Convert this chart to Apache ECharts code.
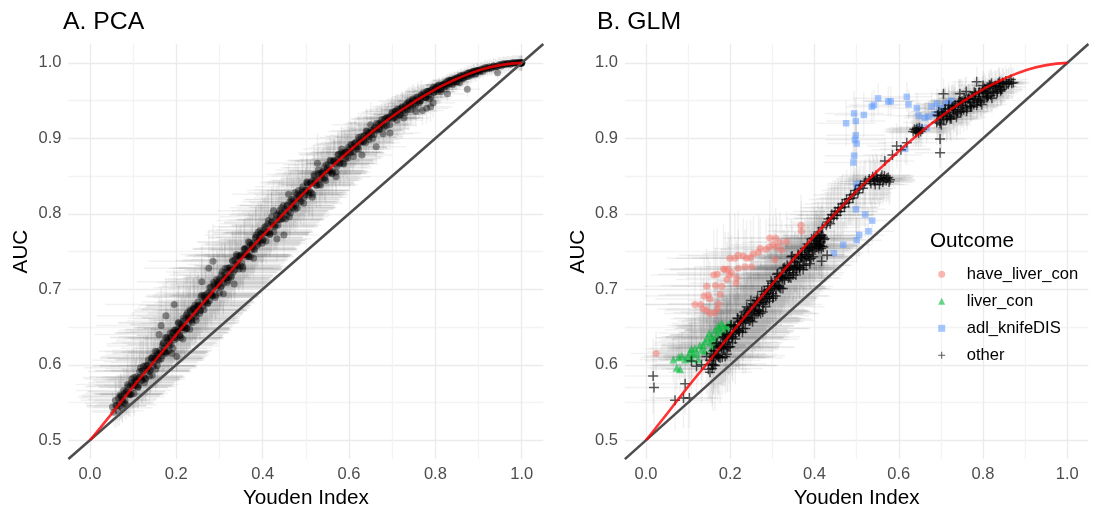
<!DOCTYPE html>
<html>
<head>
<meta charset="utf-8">
<title>AUC vs Youden Index</title>
<script src="https://cdn.jsdelivr.net/npm/echarts@6/dist/echarts.min.js"></script>
<style>
html,body{margin:0;padding:0;background:#fff;}
#chart{width:1095px;height:514px;}
</style>
</head>
<body>
<div id="chart"></div>
<script>
// ---------- data ----------
// major tick positions (labels) on each axis
const youdenTicks = [0, 0.2, 0.4, 0.6, 0.8, 1.0];
const aucTicks = [0.5, 0.6, 0.7, 0.8, 0.9, 1.0];

// reference curve: AUC expected for a given Youden index
const youdenGrid = [0,.05,.1,.15,.2,.25,.3,.35,.4,.45,.5,.55,.6,.65,.7,.75,.8,.85,.9,.95,1];
const aucCurve = [.5,.535,.571,.605,.640,.674,.707,.740,.771,.801,.830,.857,.883,.907,.929,.948,.965,.979,.990,.997,1];

// chance line AUC = (1 + J) / 2 across the plotted range
const chanceLine = [[-.05,.475],[1.05,1.025]];

// panel A: PCA results, [youden, auc, youden half-width, auc half-width]
const pcaPoints = [
[.052,.544,.06,.02],[.055,.537,.05,.02],[.059,.553,.08,.03],[.062,.546,.07,.02],[.066,.556,.09,.03],[.069,.545,.06,.02],[.072,.558,.10,.03],[.075,.554,.08,.03],[.078,.566,.11,.03],[.081,.553,.07,.02],[.084,.565,.09,.03],[.087,.574,.12,.04],[.090,.561,.08,.03],[.093,.572,.10,.03],[.096,.561,.07,.02],[.099,.573,.09,.03],[.102,.583,.12,.04],[.105,.573,.09,.03],[.108,.584,.11,.04],[.111,.570,.07,.02],[.114,.583,.10,.03],[.117,.596,.13,.04],[.120,.579,.08,.03],[.123,.592,.11,.04],[.126,.576,.07,.02],[.129,.599,.12,.04],[.132,.592,.10,.03],[.135,.606,.13,.04],[.138,.591,.09,.03],[.141,.604,.11,.04],[.144,.586,.07,.02],[.147,.611,.12,.04],
[.150,.609,.11,.04],[.152,.594,.08,.03],[.155,.617,.12,.04],[.157,.607,.10,.03],[.160,.640,.15,.05],[.162,.619,.11,.04],[.165,.652,.15,.05],[.167,.612,.09,.03],[.170,.629,.12,.04],[.172,.622,.10,.03],[.175,.636,.13,.04],[.176,.665,.16,.05],[.178,.617,.09,.03],[.181,.634,.12,.04],[.183,.626,.10,.03],[.186,.642,.13,.04],[.188,.635,.11,.04],[.190,.615,.08,.03],[.192,.643,.13,.04],[.195,.680,.16,.05],[.196,.633,.10,.03],[.199,.646,.12,.04],[.201,.611,.07,.02],[.203,.644,.11,.04],[.205,.656,.14,.05],[.208,.639,.10,.03],[.210,.654,.12,.04],[.212,.649,.11,.04],[.215,.634,.09,.03],[.217,.662,.13,.05],[.219,.649,.11,.04],[.222,.661,.12,.04],[.224,.648,.10,.03],[.226,.669,.13,.05],[.229,.662,.11,.04],[.231,.647,.09,.03],[.233,.671,.13,.04],[.236,.660,.10,.03],[.238,.673,.12,.04],[.241,.667,.11,.04],[.243,.679,.13,.05],[.246,.664,.10,.03],[.248,.678,.12,.04],
[.251,.678,.12,.04],[.254,.668,.10,.03],[.257,.690,.13,.04],[.259,.710,.15,.05],[.262,.678,.10,.03],[.265,.692,.12,.04],[.268,.685,.11,.04],[.271,.694,.12,.04],[.275,.728,.15,.05],[.277,.685,.10,.03],[.280,.703,.12,.04],[.283,.693,.10,.03],[.285,.737,.15,.05],[.287,.704,.12,.04],[.290,.689,.09,.03],[.293,.713,.12,.04],[.296,.705,.11,.04],[.300,.714,.12,.04],[.303,.703,.10,.03],[.306,.723,.13,.04],[.309,.694,.08,.03],[.312,.719,.11,.04],[.315,.715,.10,.03],[.318,.728,.12,.04],[.321,.716,.10,.03],[.324,.729,.12,.04],[.327,.716,.10,.03],[.330,.738,.13,.04],[.334,.707,.08,.03],[.336,.733,.11,.04],[.339,.746,.13,.04],[.342,.731,.10,.03],[.345,.744,.12,.04],[.348,.731,.10,.03],[.351,.746,.11,.04],[.354,.727,.09,.03],[.357,.753,.12,.04],[.360,.746,.10,.03],[.364,.755,.11,.04],[.367,.744,.10,.03],[.370,.762,.12,.04],[.374,.752,.10,.03],[.377,.761,.11,.04],[.379,.741,.08,.03],[.383,.768,.11,.04],[.387,.758,.10,.03],[.390,.776,.12,.04],[.394,.765,.10,.03],[.397,.775,.11,.04],
[.401,.766,.10,.03],[.405,.783,.12,.04],[.409,.775,.10,.03],[.413,.791,.12,.04],[.417,.773,.09,.03],[.421,.789,.11,.04],[.425,.804,.13,.04],[.429,.785,.10,.03],[.433,.767,.08,.03],[.436,.800,.11,.04],[.440,.792,.10,.03],[.444,.808,.12,.04],[.449,.772,.08,.03],[.452,.806,.11,.03],[.456,.798,.10,.03],[.460,.826,.13,.04],[.463,.816,.11,.04],[.467,.809,.10,.03],[.471,.819,.11,.04],[.475,.806,.09,.03],[.479,.821,.10,.03],[.483,.831,.12,.04],[.487,.817,.09,.03],[.491,.832,.11,.04],[.495,.814,.09,.03],[.499,.831,.10,.03],[.503,.841,.11,.04],[.507,.828,.09,.03],[.511,.840,.10,.03],[.515,.822,.08,.03],[.519,.852,.11,.04],[.523,.844,.10,.03],[.527,.867,.12,.04],[.531,.839,.09,.03],[.534,.854,.10,.03],[.538,.847,.09,.03],[.542,.861,.10,.03],[.546,.844,.08,.03],[.550,.861,.10,.03],[.554,.857,.09,.03],[.558,.870,.10,.03],[.562,.856,.08,.03],[.566,.870,.10,.03],[.570,.849,.08,.02],[.574,.872,.09,.03],[.578,.867,.08,.03],[.582,.881,.10,.03],[.586,.867,.08,.02],[.590,.880,.09,.03],[.594,.876,.08,.03],[.598,.888,.09,.03],
[.602,.881,.08,.03],[.606,.891,.09,.03],[.610,.876,.07,.02],[.614,.893,.09,.03],[.618,.886,.08,.02],[.622,.901,.09,.03],[.626,.894,.08,.02],[.630,.878,.07,.02],[.634,.903,.09,.03],[.638,.894,.08,.02],[.642,.909,.09,.03],[.646,.902,.08,.02],[.650,.918,.09,.03],[.655,.900,.07,.02],[.659,.913,.08,.02],[.663,.889,.07,.02],[.667,.919,.08,.02],[.671,.912,.07,.02],[.675,.921,.08,.02],[.679,.906,.07,.02],[.683,.926,.08,.02],[.687,.917,.07,.02],[.691,.927,.08,.02],[.695,.907,.07,.02],[.699,.933,.08,.02],[.703,.927,.07,.02],[.707,.936,.07,.02],[.711,.924,.06,.02],[.715,.938,.07,.02],[.719,.931,.06,.02],[.723,.942,.07,.02],[.727,.927,.06,.02],[.731,.943,.07,.02],[.735,.938,.06,.02],[.739,.949,.07,.02],[.743,.938,.06,.02],[.747,.950,.06,.02],[.751,.946,.06,.02],[.755,.936,.05,.02],[.759,.955,.06,.02],[.763,.947,.05,.02],[.767,.957,.06,.02],[.770,.937,.05,.02],[.774,.958,.05,.01],[.778,.954,.05,.01],[.780,.940,.05,.02],[.782,.962,.05,.01],[.786,.952,.05,.01],[.789,.942,.05,.02],[.793,.965,.05,.01],[.795,.947,.05,.02],[.797,.961,.05,.01],
[.801,.967,.05,.01],[.805,.962,.04,.01],[.809,.970,.05,.01],[.813,.962,.04,.01],[.817,.971,.04,.01],[.821,.968,.04,.01],[.825,.974,.04,.01],[.828,.959,.04,.01],[.832,.972,.04,.01],[.836,.977,.04,.01],[.840,.971,.04,.01],[.844,.978,.03,.01],[.848,.975,.03,.01],[.852,.980,.03,.01],[.856,.974,.03,.01],[.860,.982,.03,.01],[.864,.980,.03,.01],[.868,.984,.03,.01],[.874,.965,.03,.01],[.876,.982,.03,.01],[.880,.987,.03,.01],[.885,.985,.03,.01],[.889,.989,.03,.01],[.893,.985,.03,.01],[.897,.990,.02,.01],[.902,.988,.02,.01],[.906,.992,.02,.01],[.910,.989,.02,.01],[.915,.994,.02,.01],[.920,.992,.02,.01],[.925,.995,.02,.01],[.930,.993,.02,.01],[.935,.996,.02,.01],[.940,.995,.02,.01],[.944,.987,.02,.01],[.948,.998,.02,.01],[.953,.996,.02,.01],[.958,.999,.01,.01],[.963,.998,.01,.01],[.968,.999,.01,.01],[.973,.998,.01,.01],[.978,1,.01,.01],[.983,.999,.01,.01],[.988,1,.01,.01],[.992,1,.01,.01],[.994,.999,.01,.01],[.996,1,.01,.01],[.999,.999,.01,.01],[1,1,.01,.01],
[.060,.546,.07,.03],[.064,.539,.06,.02],[.068,.549,.08,.03],[.072,.558,.09,.03],[.076,.551,.07,.02],[.080,.549,.06,.02],[.084,.564,.09,.03],[.088,.562,.08,.03],[.092,.560,.07,.02],[.096,.576,.10,.03],[.100,.570,.08,.03],[.104,.577,.09,.03],[.108,.580,.10,.03],[.112,.573,.08,.03],[.116,.583,.09,.03],[.120,.592,.11,.04],[.124,.584,.09,.03],[.128,.582,.08,.03],[.132,.598,.11,.04],[.136,.595,.10,.03],[.140,.593,.09,.03],[.144,.609,.12,.04],[.148,.603,.10,.03],[.152,.609,.11,.04],
[.156,.613,.12,.04],[.160,.606,.10,.03],[.164,.616,.11,.04],[.168,.625,.13,.04],[.172,.617,.10,.03],[.176,.615,.09,.03],[.180,.631,.12,.04],[.184,.629,.11,.04],[.188,.627,.10,.03],[.192,.642,.13,.04],[.196,.636,.11,.04],[.200,.643,.12,.04],[.204,.647,.12,.04],[.208,.639,.10,.03],[.212,.649,.11,.04],[.216,.658,.13,.04],[.220,.651,.11,.04],[.224,.648,.10,.03],[.228,.664,.12,.04],[.232,.662,.11,.04],[.236,.659,.10,.03],[.240,.675,.13,.04],[.244,.669,.11,.04],[.248,.676,.12,.04],
[.252,.679,.12,.04],[.256,.672,.10,.03],[.260,.682,.11,.04],[.264,.690,.13,.04],[.268,.683,.11,.04],[.272,.681,.10,.03],[.276,.696,.12,.04],[.280,.694,.11,.04],[.284,.691,.10,.03],[.288,.707,.12,.04],[.292,.701,.11,.04],[.296,.707,.11,.04],[.300,.711,.12,.04],[.304,.704,.10,.03],[.308,.713,.11,.04],[.312,.722,.12,.04],[.316,.715,.10,.03],[.320,.712,.10,.03],[.324,.728,.12,.04],[.328,.726,.11,.04],[.332,.723,.10,.03],[.336,.739,.12,.04],[.340,.732,.10,.03],[.344,.739,.11,.04],
[.348,.743,.11,.04],[.352,.735,.10,.03],[.356,.745,.11,.04],[.360,.753,.12,.04],[.364,.746,.10,.03],[.368,.743,.09,.03],[.372,.759,.11,.04],[.376,.756,.10,.03],[.380,.754,.10,.03],[.384,.769,.11,.04],[.388,.763,.10,.03],[.392,.769,.10,.03],[.396,.773,.11,.04],[.400,.765,.10,.03],[.404,.774,.10,.03],[.408,.783,.11,.04],[.412,.775,.10,.03],[.416,.773,.09,.03],[.420,.788,.11,.04],[.424,.785,.10,.03],[.428,.783,.10,.03],[.432,.798,.11,.04],[.436,.792,.10,.03],[.440,.798,.10,.03],
[.444,.801,.10,.03],[.448,.794,.09,.03],[.452,.803,.10,.03],[.456,.811,.11,.04],[.460,.804,.09,.03],[.464,.801,.09,.03],[.468,.816,.10,.03],[.472,.814,.10,.03],[.476,.811,.09,.03],[.480,.826,.10,.04],[.484,.820,.09,.03],[.488,.826,.09,.03],[.492,.829,.10,.03],[.496,.822,.09,.03],[.500,.831,.09,.03],[.504,.839,.10,.03],[.508,.831,.09,.03],[.512,.828,.08,.03],[.516,.844,.10,.03],[.520,.841,.09,.03],[.524,.838,.08,.03],[.528,.853,.10,.03],[.532,.846,.09,.03],[.536,.852,.09,.03],
[.540,.856,.09,.03],[.544,.848,.08,.03],[.548,.857,.09,.03],[.552,.865,.09,.03],[.556,.857,.08,.03],[.560,.854,.08,.02],[.564,.869,.09,.03],[.568,.866,.08,.03],[.572,.863,.08,.02],[.576,.879,.09,.03],[.580,.872,.08,.03],[.584,.878,.08,.03],[.588,.881,.08,.03],[.592,.873,.08,.02],[.596,.882,.08,.03],[.600,.885,.08,.03],[.604,.882,.07,.02],[.608,.888,.08,.03],[.612,.893,.08,.03],[.616,.889,.07,.02],[.620,.889,.07,.02],[.624,.898,.08,.03],[.628,.896,.07,.02],[.632,.895,.07,.02],
[.636,.904,.08,.02],[.640,.901,.07,.02],[.644,.906,.07,.02],[.648,.908,.07,.02],[.652,.905,.07,.02],[.656,.911,.07,.02],[.660,.915,.07,.02],[.664,.911,.06,.02],[.668,.911,.06,.02],[.672,.920,.07,.02],[.676,.918,.06,.02],[.680,.917,.06,.02],[.684,.926,.07,.02],[.688,.923,.06,.02],[.692,.927,.06,.02],[.696,.929,.06,.02],[.700,.926,.06,.02],[.704,.932,.06,.02],[.708,.936,.06,.02],[.712,.932,.06,.02],[.716,.931,.05,.02],[.720,.940,.06,.02],[.724,.938,.05,.02],[.728,.937,.05,.02],
[.732,.945,.06,.02],[.736,.942,.05,.02],[.740,.946,.05,.02],[.744,.948,.05,.02],[.748,.944,.05,.02],[.752,.950,.05,.02],[.756,.954,.05,.01],[.760,.949,.05,.01],[.764,.949,.05,.01],[.768,.957,.05,.01],[.772,.955,.05,.01],[.776,.954,.04,.01],[.780,.962,.05,.01],[.784,.958,.04,.01],[.788,.963,.04,.01],[.792,.964,.04,.01],[.796,.961,.04,.01],[.800,.966,.04,.01],[.804,.969,.04,.01],[.808,.965,.04,.01],[.812,.965,.04,.01],[.816,.971,.04,.01],[.820,.971,.04,.01],[.824,.970,.04,.01],
[.828,.976,.04,.01],[.832,.973,.03,.01],[.836,.977,.03,.01],[.840,.977,.03,.01],[.844,.975,.03,.01],[.848,.979,.03,.01],[.852,.981,.03,.01],[.856,.979,.03,.01],[.860,.979,.03,.01],[.864,.984,.03,.01],[.868,.983,.03,.01],[.872,.982,.03,.01],[.876,.987,.03,.01],[.880,.985,.03,.01],[.884,.988,.02,.01],[.888,.988,.02,.01],[.892,.986,.02,.01],[.896,.990,.02,.01],[.900,.990,.02,.01],[.905,.990,.02,.01],[.910,.992,.02,.01],[.915,.992,.02,.01],[.920,.994,.02,.01],[.925,.993,.02,.01],
[.930,.994,.02,.01],[.935,.996,.02,.01],[.940,.995,.02,.01],[.945,.996,.02,.01],[.950,.997,.01,.01],[.955,.998,.01,.01],[.960,.998,.01,.01],[.965,.999,.01,.01],[.970,.999,.01,.01],[.975,.999,.01,.01],[.980,1,.01,.01],[.985,1,.01,.01],[.990,1,.01,.01],[.995,1,.01,.01],[.997,.999,.01,.01],[.998,1,.01,.01],[1,1,.01,.01],[1,1,.01,.01],
[.070,.560,.09,.03],[.075,.543,.07,.02],[.079,.562,.09,.03],[.084,.547,.07,.02],[.088,.571,.10,.03],[.093,.561,.08,.03],[.097,.581,.11,.04],[.102,.562,.08,.03],[.106,.578,.10,.03],[.111,.571,.09,.03],[.115,.591,.12,.04],[.120,.580,.09,.03],[.124,.598,.12,.04],[.129,.581,.09,.03],[.133,.599,.11,.04],[.138,.585,.08,.03],[.142,.609,.12,.04],[.147,.598,.10,.03],[.151,.618,.13,.04],[.156,.599,.09,.03],[.160,.615,.11,.04],[.165,.608,.10,.03],[.169,.628,.13,.04],[.174,.617,.10,.03],
[.178,.636,.13,.04],[.183,.619,.10,.03],[.187,.637,.12,.04],[.192,.622,.09,.03],[.196,.646,.13,.04],[.201,.635,.11,.04],[.205,.655,.14,.05],[.210,.636,.10,.03],[.214,.653,.12,.04],[.219,.646,.11,.04],[.223,.666,.13,.05],[.228,.655,.11,.04],[.232,.673,.13,.05],[.237,.656,.10,.03],[.241,.674,.12,.04],[.246,.659,.10,.03],[.250,.683,.13,.04],[.255,.672,.11,.04],[.259,.692,.13,.05],[.264,.673,.10,.03],[.268,.689,.12,.04],[.273,.682,.11,.04],[.277,.702,.13,.04],[.282,.691,.11,.04],
[.286,.709,.13,.04],[.291,.692,.10,.03],[.295,.710,.12,.04],[.300,.695,.10,.03],[.304,.719,.12,.04],[.309,.708,.11,.04],[.313,.728,.13,.04],[.318,.709,.10,.03],[.322,.725,.12,.04],[.327,.718,.11,.04],[.331,.737,.12,.04],[.336,.726,.11,.04],[.340,.744,.12,.04],[.345,.727,.10,.03],[.349,.745,.12,.04],[.354,.730,.10,.03],[.358,.754,.12,.04],[.363,.743,.10,.03],[.367,.763,.12,.04],[.372,.743,.10,.03],[.376,.759,.11,.04],[.381,.752,.10,.03],[.385,.772,.12,.04],[.390,.760,.10,.03],
[.394,.778,.12,.04],[.399,.761,.10,.03],[.403,.779,.11,.04],[.408,.764,.09,.03],[.412,.787,.11,.04],[.417,.776,.10,.03],[.421,.796,.12,.04],[.426,.776,.09,.03],[.430,.792,.11,.04],[.435,.785,.10,.03],[.439,.804,.11,.04],[.444,.793,.10,.03],[.448,.811,.11,.04],[.453,.793,.09,.03],[.457,.811,.11,.04],[.462,.796,.09,.03],[.466,.819,.11,.04],[.471,.808,.10,.03],[.475,.828,.11,.04],[.480,.808,.09,.03],[.484,.824,.10,.03],[.489,.816,.09,.03],[.493,.836,.11,.04],[.498,.825,.09,.03],
[.502,.842,.10,.03],[.507,.825,.09,.03],[.511,.842,.10,.03],[.516,.826,.08,.03],[.520,.850,.10,.03],[.525,.838,.09,.03],[.529,.858,.10,.03],[.534,.838,.08,.03],[.538,.854,.09,.03],[.543,.846,.09,.03],[.547,.865,.10,.03],[.552,.854,.09,.03],[.556,.871,.10,.03],[.561,.853,.08,.03],[.565,.871,.09,.03],[.570,.855,.08,.03],[.574,.878,.09,.03],[.579,.867,.08,.03],[.583,.886,.09,.03],[.588,.866,.08,.03],[.592,.882,.08,.03],[.597,.874,.08,.03],
[.604,.892,.08,.03],[.610,.882,.07,.02],[.616,.895,.08,.03],[.622,.886,.07,.02],[.628,.902,.08,.03],[.634,.896,.07,.02],[.640,.910,.08,.03],[.646,.898,.07,.02],[.652,.910,.07,.02],[.658,.905,.07,.02],[.664,.920,.07,.02],[.670,.913,.07,.02],[.676,.925,.07,.02],[.682,.915,.06,.02],[.688,.928,.07,.02],[.694,.918,.06,.02],[.700,.935,.07,.02],[.706,.928,.06,.02],[.712,.939,.06,.02],[.718,.932,.06,.02],[.724,.941,.06,.02],[.730,.934,.06,.02],[.736,.947,.06,.02],[.742,.943,.05,.02],
[.748,.952,.06,.02],[.754,.944,.05,.02],[.760,.952,.05,.02],[.766,.950,.05,.01],[.772,.960,.05,.01],[.778,.954,.05,.01],[.784,.962,.05,.01],[.790,.955,.05,.01],[.796,.968,.04,.01],[.802,.964,.04,.01],[.808,.971,.04,.01],[.814,.965,.04,.01],[.820,.972,.04,.01],[.826,.969,.04,.01],[.832,.977,.04,.01],[.838,.973,.03,.01],[.844,.979,.03,.01],[.850,.975,.03,.01],[.858,.983,.03,.01],[.866,.980,.03,.01],[.874,.986,.03,.01],[.882,.984,.03,.01],[.890,.989,.02,.01],[.898,.989,.02,.01]
];

// panel B: GLM results by outcome, [youden, auc, youden half-width, auc half-width]
const haveLiverCon = [
[.024,.615,.06,.03],[.116,.680,.12,.05],[.130,.680,.13,.05],[.136,.674,.11,.04],[.138,.691,.14,.05],[.144,.672,.10,.04],[.144,.704,.15,.05],[.148,.692,.12,.05],[.152,.687,.13,.05],[.152,.668,.11,.04],[.161,.719,.15,.06],[.164,.669,.10,.04],[.165,.705,.13,.05],[.169,.674,.12,.04],[.169,.720,.14,.06],[.172,.681,.12,.05],[.176,.693,.13,.05],[.180,.704,.12,.05],[.184,.727,.14,.06],[.188,.726,.13,.05],[.192,.713,.12,.05],[.195,.727,.14,.05],[.198,.719,.12,.05],[.199,.741,.15,.06],[.203,.722,.13,.05],[.211,.741,.14,.06],[.214,.708,.11,.04],[.215,.715,.12,.05],[.219,.728,.13,.05],[.219,.745,.14,.06],[.231,.744,.13,.05],[.235,.730,.12,.05],[.239,.741,.13,.05],[.248,.742,.12,.05],[.251,.730,.11,.04],[.255,.747,.12,.05],[.267,.749,.12,.05],[.271,.754,.11,.04],[.285,.753,.11,.04],[.293,.756,.10,.04],[.294,.768,.11,.05],[.302,.759,.10,.04],[.306,.739,.09,.04],[.308,.768,.10,.04],[.310,.756,.10,.04],[.318,.762,.09,.04],[.322,.752,.09,.04],[.334,.763,.09,.04],[.368,.785,.08,.04],[.369,.777,.08,.04]
];
const liverCon = [
[.065,.607,.08,.03],[.073,.596,.07,.03],[.078,.610,.09,.03],[.081,.594,.07,.03],[.085,.612,.09,.03],[.093,.607,.08,.03],[.100,.610,.10,.03],[.104,.617,.10,.04],[.108,.621,.11,.04],[.108,.608,.08,.03],[.112,.614,.09,.03],[.116,.622,.11,.04],[.120,.616,.09,.03],[.124,.607,.08,.03],[.128,.626,.11,.04],[.132,.620,.10,.04],[.136,.626,.10,.04],[.140,.631,.11,.04],[.140,.618,.09,.03],[.146,.635,.12,.04],[.150,.642,.12,.04],[.152,.629,.10,.04],[.156,.637,.11,.04],[.156,.622,.09,.03],[.160,.633,.10,.04],[.164,.646,.12,.04],[.167,.639,.11,.04],[.167,.627,.09,.03],[.172,.652,.11,.04],[.174,.648,.11,.04],[.178,.643,.10,.04],[.180,.655,.12,.04],[.184,.650,.11,.04],[.192,.652,.10,.04],[.192,.646,.10,.04],[.199,.655,.10,.04]
];
const adlKnifeDIS = [
[.446,.748,.07,.03],[.468,.759,.07,.03],[.500,.765,.06,.03],[.506,.772,.06,.03],[.528,.777,.06,.03],[.537,.791,.06,.03],[.520,.799,.06,.03],[.498,.806,.07,.03],[.500,.835,.07,.03],[.500,.840,.07,.03],[.492,.868,.07,.03],[.494,.877,.07,.03],[.500,.893,.07,.03],[.496,.898,.07,.03],[.498,.904,.07,.03],[.475,.920,.07,.03],[.498,.923,.07,.03],[.494,.933,.07,.03],[.517,.931,.07,.03],[.536,.942,.06,.02],[.541,.944,.06,.02],[.551,.953,.06,.02],[.575,.949,.06,.02],[.581,.949,.06,.02],[.615,.886,.06,.02],[.619,.955,.06,.02],[.623,.945,.06,.02],[.643,.940,.06,.02],[.647,.930,.06,.02],[.650,.915,.05,.02],[.662,.927,.05,.02],[.666,.914,.05,.02],[.670,.929,.05,.02],[.678,.942,.05,.02],[.685,.932,.05,.02],[.690,.946,.05,.02],[.698,.940,.05,.02],[.705,.936,.05,.02],[.710,.946,.05,.02],[.718,.947,.05,.02],[.725,.950,.05,.02]
];
const otherOutcomes = [
[.017,.585,.10,.05],[.019,.570,.09,.05],[.069,.553,.08,.04],[.089,.556,.08,.04],[.103,.556,.08,.04],[.093,.575,.09,.04],[.108,.605,.11,.05],[.120,.598,.10,.04],[.132,.600,.11,.05],[.148,.594,.10,.04],[.152,.590,.10,.04],[.144,.611,.12,.05],[.160,.600,.10,.04],[.188,.611,.12,.05],[.192,.614,.12,.05],
[.155,.615,.13,.05],[.158,.599,.15,.06],[.161,.613,.12,.05],[.164,.599,.15,.06],[.167,.628,.13,.05],[.170,.612,.16,.06],[.173,.625,.12,.05],[.176,.609,.15,.06],[.179,.622,.13,.05],[.182,.636,.16,.06],[.185,.620,.13,.05],[.188,.633,.15,.06],[.191,.640,.12,.05],[.194,.623,.16,.06],[.197,.637,.13,.05],[.200,.624,.15,.06],[.203,.653,.12,.05],[.206,.637,.16,.06],[.209,.650,.13,.05],[.212,.634,.15,.06],[.215,.647,.12,.05],[.218,.661,.16,.06],[.221,.645,.13,.05],[.224,.658,.15,.06],[.227,.665,.12,.05],[.230,.648,.16,.06],[.233,.662,.13,.05],[.236,.648,.15,.06],[.239,.677,.12,.05],[.242,.661,.15,.06],[.245,.675,.13,.05],[.248,.659,.15,.06],
[.251,.667,.12,.05],[.254,.681,.15,.06],[.257,.665,.13,.05],[.260,.678,.14,.06],[.263,.685,.12,.05],[.266,.668,.14,.06],[.269,.682,.12,.05],[.272,.668,.14,.05],[.275,.697,.12,.05],[.278,.680,.14,.05],[.281,.693,.12,.05],[.284,.677,.14,.05],[.287,.690,.12,.05],[.290,.704,.13,.05],[.293,.688,.11,.04],[.296,.701,.13,.05],[.299,.708,.11,.04],[.302,.691,.13,.05],[.305,.705,.11,.04],[.308,.691,.13,.05],[.311,.720,.11,.04],[.314,.704,.13,.05],[.317,.717,.11,.04],[.320,.701,.12,.05],[.323,.714,.11,.04],[.326,.728,.12,.05],[.329,.712,.10,.04],[.332,.725,.12,.05],[.335,.732,.10,.04],[.338,.715,.12,.05],[.341,.729,.10,.04],[.344,.715,.12,.05],[.347,.744,.10,.04],
[.350,.722,.12,.05],[.353,.735,.10,.04],[.356,.719,.11,.04],[.359,.732,.10,.04],[.362,.745,.11,.04],[.365,.729,.10,.04],[.368,.742,.11,.04],[.371,.749,.10,.04],[.374,.732,.11,.04],[.377,.746,.09,.04],[.380,.732,.11,.04],[.383,.760,.09,.04],[.386,.744,.10,.04],[.389,.757,.09,.04],[.392,.741,.10,.04],[.395,.754,.09,.04],[.398,.768,.10,.04],[.401,.752,.09,.04],[.404,.764,.10,.04],[.407,.771,.09,.04],[.410,.754,.10,.04],[.413,.768,.09,.04],[.416,.754,.10,.04],[.419,.782,.09,.04],[.422,.766,.10,.04],
[.405,.760,.09,.04],[.410,.758,.09,.04],[.415,.763,.09,.04],[.412,.768,.09,.04],[.400,.761,.09,.04],[.418,.757,.09,.04],[.417,.737,.08,.03],[.389,.734,.08,.03],[.430,.745,.08,.03],
[.152,.606,.12,.05],[.156,.601,.13,.05],[.160,.610,.12,.05],[.164,.618,.14,.05],[.168,.613,.12,.05],[.172,.611,.13,.05],[.176,.624,.14,.05],[.180,.623,.12,.05],[.184,.622,.13,.05],[.188,.635,.14,.05],[.192,.630,.12,.05],[.196,.636,.13,.05],[.200,.640,.14,.05],[.204,.635,.12,.05],[.208,.643,.13,.05],[.212,.651,.14,.05],[.216,.646,.12,.05],[.220,.645,.13,.05],[.224,.657,.14,.05],[.228,.656,.12,.05],[.232,.655,.13,.05],[.236,.667,.14,.05],[.240,.663,.12,.05],[.244,.669,.13,.05],
[.248,.673,.13,.05],[.252,.662,.12,.05],[.256,.671,.13,.05],[.260,.679,.13,.05],[.264,.673,.12,.05],[.268,.672,.12,.05],[.272,.685,.13,.05],[.276,.683,.12,.05],[.280,.682,.12,.05],[.284,.694,.13,.05],[.288,.690,.11,.04],[.292,.696,.12,.05],[.296,.699,.12,.05],[.300,.694,.11,.04],[.304,.703,.12,.05],[.308,.710,.12,.05],[.312,.705,.11,.04],[.316,.704,.11,.04],[.320,.716,.12,.05],[.324,.715,.11,.04],[.328,.714,.11,.04],[.332,.726,.11,.04],[.336,.722,.10,.04],[.340,.727,.11,.04],
[.344,.731,.11,.04],[.348,.726,.10,.04],[.352,.728,.10,.04],[.356,.736,.11,.04],[.360,.730,.10,.04],[.364,.729,.10,.04],[.368,.741,.10,.04],[.372,.740,.10,.04],[.376,.738,.09,.04],[.380,.751,.10,.04],[.384,.746,.09,.04],[.388,.752,.10,.04],[.392,.755,.10,.04],[.396,.750,.09,.04],[.400,.758,.10,.04],[.404,.765,.09,.04],[.408,.760,.09,.04],[.412,.758,.09,.04],[.416,.771,.09,.04],[.420,.769,.09,.04],[.424,.767,.09,.04],
[.157,.595,.12,.05],[.161,.619,.14,.05],[.165,.609,.12,.05],[.169,.629,.15,.06],[.173,.610,.12,.05],[.177,.626,.14,.05],[.181,.610,.12,.05],[.185,.637,.15,.06],[.189,.627,.13,.05],[.193,.639,.14,.05],[.197,.624,.12,.05],[.201,.652,.15,.06],[.205,.629,.12,.05],[.209,.652,.14,.05],[.213,.642,.13,.05],[.217,.662,.15,.06],[.221,.643,.12,.05],[.225,.659,.14,.05],[.229,.643,.12,.05],[.233,.670,.15,.06],[.237,.660,.13,.05],[.241,.672,.14,.05],[.245,.658,.12,.05],[.249,.685,.15,.06],
[.253,.657,.12,.05],[.257,.680,.14,.05],[.261,.670,.13,.05],[.265,.689,.14,.05],[.269,.671,.12,.05],[.273,.687,.13,.05],[.277,.670,.12,.05],[.281,.697,.14,.05],[.285,.687,.12,.05],[.289,.699,.13,.05],[.293,.684,.11,.04],[.297,.711,.13,.05],[.301,.688,.11,.04],[.305,.711,.13,.05],[.309,.701,.12,.05],[.313,.721,.13,.05],[.317,.702,.11,.04],[.321,.718,.12,.05],[.325,.701,.11,.04],[.329,.729,.12,.05],[.333,.719,.11,.04],[.337,.730,.12,.05],[.341,.716,.10,.04],[.345,.743,.12,.05],
[.349,.719,.10,.04],[.353,.737,.11,.04],[.357,.727,.10,.04],[.361,.746,.11,.04],[.365,.727,.10,.04],[.369,.743,.11,.04],[.373,.726,.09,.04],[.377,.754,.11,.04],[.381,.743,.10,.04],[.385,.755,.10,.04],[.389,.740,.09,.04],[.393,.767,.10,.04],[.397,.743,.09,.04],[.401,.767,.10,.04],[.405,.756,.09,.04],[.409,.776,.10,.04],[.413,.757,.09,.04],[.417,.772,.09,.04],[.421,.756,.09,.04],
[.428,.785,.10,.04],[.433,.793,.10,.04],[.437,.787,.09,.04],[.441,.799,.10,.04],[.445,.794,.09,.04],[.449,.803,.10,.04],[.453,.798,.09,.04],[.457,.808,.09,.04],[.461,.803,.09,.04],[.466,.813,.09,.04],[.471,.809,.08,.03],[.476,.819,.09,.04],[.481,.815,.08,.03],[.486,.825,.09,.04],[.491,.821,.08,.03],[.497,.831,.08,.03],[.503,.828,.08,.03],[.509,.838,.08,.03],[.515,.834,.08,.03],[.521,.843,.08,.03],
[.431,.789,.09,.04],[.439,.794,.09,.04],[.447,.798,.09,.04],[.455,.803,.09,.04],[.463,.808,.09,.04],[.472,.814,.08,.03],[.483,.820,.08,.03],[.494,.826,.08,.03],[.506,.833,.08,.03],[.518,.840,.08,.03],
[.530,.846,.08,.03],[.534,.840,.07,.03],[.538,.849,.08,.03],[.542,.843,.07,.03],[.546,.851,.08,.03],[.550,.845,.07,.03],[.554,.839,.07,.03],[.558,.848,.07,.03],[.562,.842,.07,.03],[.566,.850,.07,.03],[.570,.844,.07,.03],[.575,.848,.06,.03],[.579,.845,.06,.03],
[.532,.843,.07,.03],[.540,.846,.07,.03],[.548,.847,.07,.03],[.556,.844,.07,.03],[.564,.846,.07,.03],[.572,.847,.06,.03],[.577,.842,.06,.03],[.544,.839,.07,.03],[.560,.851,.07,.03],
[.567,.870,.07,.03],[.585,.878,.07,.03],[.595,.890,.07,.03],[.605,.885,.07,.03],[.619,.894,.07,.03],
[.634,.909,.07,.02],[.637,.912,.07,.02],[.640,.908,.07,.02],[.643,.913,.07,.02],[.646,.910,.07,.02],[.649,.914,.07,.02],[.652,.909,.07,.02],[.655,.912,.07,.02],[.641,.911,.07,.02],[.647,.907,.07,.02],
[.698,.899,.06,.02],[.698,.881,.06,.02],
[.690,.921,.08,.03],[.694,.930,.08,.03],[.698,.923,.07,.03],[.702,.933,.08,.03],[.706,.925,.07,.03],[.710,.936,.08,.03],[.714,.927,.07,.03],[.718,.939,.08,.03],[.722,.929,.07,.03],[.726,.941,.08,.03],[.730,.931,.07,.03],[.734,.944,.08,.03],[.738,.933,.07,.03],[.742,.946,.08,.03],[.746,.935,.07,.03],[.750,.949,.08,.03],[.754,.938,.07,.03],[.758,.951,.08,.03],[.762,.940,.07,.03],[.766,.953,.07,.02],[.770,.943,.07,.02],[.774,.956,.07,.02],[.778,.945,.06,.02],[.782,.958,.07,.02],[.786,.947,.06,.02],[.790,.960,.06,.02],[.794,.950,.06,.02],[.798,.962,.06,.02],[.802,.952,.06,.02],[.806,.964,.06,.02],[.810,.955,.06,.02],[.814,.966,.06,.02],[.818,.957,.05,.02],[.822,.968,.06,.02],[.826,.960,.05,.02],[.830,.970,.05,.02],[.834,.962,.05,.02],[.838,.972,.05,.02],[.842,.965,.05,.02],[.846,.974,.05,.02],[.850,.968,.05,.02],[.856,.972,.04,.02],[.862,.975,.04,.02],[.868,.973,.04,.02],[.872,.974,.04,.02],
[.785,.975,.06,.02],[.706,.959,.07,.02],[.745,.959,.06,.02],[.800,.970,.06,.02],[.760,.962,.06,.02],[.820,.973,.05,.02],
[.720,.934,.07,.03],[.750,.944,.07,.03],[.780,.952,.06,.02],[.810,.960,.06,.02],[.840,.968,.05,.02],[.770,.948,.06,.02],[.730,.938,.07,.03],[.790,.955,.06,.02],
[.692,.931,.07,.03],[.698,.920,.07,.03],[.704,.931,.07,.03],[.710,.939,.07,.03],[.716,.929,.07,.03],[.722,.926,.07,.03],[.728,.942,.07,.03],[.734,.938,.07,.03],[.740,.935,.07,.03],[.746,.948,.07,.03],[.752,.941,.06,.02],[.758,.948,.06,.02],[.764,.952,.06,.02],[.770,.942,.06,.02],[.776,.952,.06,.02],[.782,.960,.06,.02],[.788,.950,.06,.02],[.794,.948,.06,.02],[.800,.963,.05,.02],[.806,.959,.05,.02],[.812,.956,.05,.02],[.818,.970,.05,.02],[.824,.962,.05,.02],[.830,.969,.05,.02],[.836,.973,.05,.02],[.842,.963,.05,.02],[.848,.973,.04,.02],[.854,.976,.04,.02],[.860,.972,.04,.02],[.866,.978,.04,.02],
[.695,.935,.07,.03],[.701,.918,.07,.03],[.707,.934,.07,.03],[.713,.925,.07,.03],[.719,.944,.07,.03],[.725,.926,.07,.03],[.731,.943,.07,.03],[.737,.928,.07,.03],[.743,.949,.07,.03],[.749,.936,.06,.02],[.755,.953,.06,.02],[.761,.936,.06,.02],[.767,.952,.06,.02],[.773,.942,.06,.02],[.779,.961,.06,.02],[.785,.944,.06,.02],[.791,.961,.06,.02],[.797,.945,.06,.02],[.803,.966,.05,.02],[.809,.954,.05,.02],[.815,.971,.05,.02],[.821,.953,.05,.02],[.827,.969,.05,.02],[.833,.960,.05,.02],[.839,.975,.05,.02],[.845,.965,.05,.02]
];

// ---------- styling ----------
const FONT = '"Liberation Sans", Arial, Helvetica, sans-serif';
const NONE = 'rgba(0,0,0,0)';
const GRID_MAJOR = '#ebebeb';
const GRID_MINOR = '#f3f3f3';
const HAZE = 'rgba(0,0,0,0.055)';
const PLUS = 'path://M4.25,0H5.75V4.25H10V5.75H5.75V10H4.25V5.75H0V4.25H4.25Z';

const curveData = youdenGrid.map((j, i) => [j, aucCurve[i]]);
const isTick = (list, v) => list.some(t => Math.abs(t - v) < 1e-6);

// ticks every 0.05 from the lower limit; colours cycle none / major / none / minor
function xAxisFor(idx) {
  return {
    gridIndex: idx, type: 'value', min: -0.05, max: 1.05, interval: 0.05,
    axisLine: {show: false}, axisTick: {show: false},
    splitLine: {show: true, lineStyle: {color: [NONE, GRID_MAJOR, NONE, GRID_MINOR], width: 1.3}},
    axisLabel: {margin: 7, color: '#4d4d4d', fontSize: 16.5, fontFamily: FONT,
      formatter: v => isTick(youdenTicks, v) ? Math.abs(v).toFixed(1) : ''},
    name: 'Youden Index', nameLocation: 'middle', nameGap: 26,
    nameTextStyle: {fontSize: 20.7, color: '#000', fontFamily: FONT}
  };
}
function yAxisFor(idx, gap) {
  return {
    gridIndex: idx, type: 'value', min: 0.475, max: 1.025, interval: 0.025,
    axisLine: {show: false}, axisTick: {show: false},
    splitLine: {show: true, lineStyle: {color: [NONE, GRID_MAJOR, NONE, GRID_MINOR], width: 1.3}},
    axisLabel: {margin: 7, color: '#4d4d4d', fontSize: 16.5, fontFamily: FONT,
      formatter: v => isTick(aucTicks, v) ? v.toFixed(1) : ''},
    name: 'AUC', nameLocation: 'middle', nameGap: gap,
    nameTextStyle: {fontSize: 20.7, color: '#000', fontFamily: FONT}
  };
}

// faint horizontal and vertical interval bars behind each point
function errorBars(params, api) {
  const cs = params.coordSys;
  const x = api.value(0), y = api.value(1), ex = api.value(2), ey = api.value(3);
  const p = api.coord([x, y]);
  const l = api.coord([x - ex, y])[0], r = api.coord([x + ex, y])[0];
  const t = api.coord([x, y + ey])[1], b = api.coord([x, y - ey])[1];
  const cx = v => Math.max(cs.x, Math.min(cs.x + cs.width, v));
  const cy = v => Math.max(cs.y, Math.min(cs.y + cs.height, v));
  return {type: 'group', children: [
    {type: 'line', shape: {x1: cx(l), y1: p[1], x2: cx(r), y2: p[1]}, style: {stroke: HAZE, lineWidth: 1.5}},
    {type: 'line', shape: {x1: p[0], y1: cy(t), x2: p[0], y2: cy(b)}, style: {stroke: HAZE, lineWidth: 1.5}}
  ]};
}
function hazeSeries(idx, data) {
  return {type: 'custom', xAxisIndex: idx, yAxisIndex: idx, data: data, renderItem: errorBars,
    encode: {x: 0, y: 1}, silent: true, z: 1};
}
function chanceSeries(idx) {
  return {type: 'line', xAxisIndex: idx, yAxisIndex: idx, data: chanceLine, symbol: 'none',
    lineStyle: {color: '#4d4d4d', width: 2.6}, silent: true, z: 5};
}
function curveSeries(idx) {
  return {type: 'line', xAxisIndex: idx, yAxisIndex: idx, data: curveData, symbol: 'none', smooth: true,
    lineStyle: {color: 'rgba(255,0,0,0.8)', width: 2.6}, silent: true, z: 6};
}
function groupSeries(name, data, symbol, size, color) {
  return {type: 'scatter', name: name, xAxisIndex: 1, yAxisIndex: 1, data: data,
    symbol: symbol, symbolSize: size, itemStyle: {color: color}, silent: true, z: 3};
}

const chart = echarts.init(document.getElementById('chart'), null, {renderer: 'canvas'});
chart.setOption({
  animation: false,
  backgroundColor: '#ffffff',
  textStyle: {fontFamily: FONT},
  title: [
    {text: 'A. PCA', left: 63, top: 10, padding: 0, textStyle: {fontSize: 24.8, fontWeight: 'normal', color: '#000', fontFamily: FONT}},
    {text: 'B. GLM', left: 597, top: 10, padding: 0, textStyle: {fontSize: 24.8, fontWeight: 'normal', color: '#000', fontFamily: FONT}},
    {text: 'Outcome', left: 930, top: 231, padding: 0, textStyle: {fontSize: 20.7, fontWeight: 'normal', color: '#000', fontFamily: FONT}}
  ],
  legend: {
    orient: 'vertical', left: 938.2, top: 264.3, padding: 0,
    itemWidth: 7, itemHeight: 7, itemGap: 7, selectedMode: false, symbolKeepAspect: true,
    textStyle: {fontSize: 16.6, lineHeight: 20, color: '#000', fontFamily: FONT, padding: [0, 0, 0, 16.5]},
    data: ['have_liver_con', 'liver_con', 'adl_knifeDIS', 'other']
  },
  grid: [
    {left: 68.4, top: 44, width: 474.9, height: 424.6},
    {left: 624.9, top: 44, width: 463.5, height: 424.6}
  ],
  xAxis: [xAxisFor(0), xAxisFor(1)],
  yAxis: [yAxisFor(0, 37), yAxisFor(1, 36)],
  series: [
    hazeSeries(0, pcaPoints),
    {type: 'scatter', xAxisIndex: 0, yAxisIndex: 0, data: pcaPoints, symbol: 'circle', symbolSize: 7,
      itemStyle: {color: 'rgba(0,0,0,0.5)'}, silent: true, z: 3},
    chanceSeries(0),
    curveSeries(0),
    hazeSeries(1, haveLiverCon.concat(liverCon, adlKnifeDIS, otherOutcomes)),
    groupSeries('have_liver_con', haveLiverCon, 'circle', 7, 'rgba(248,118,109,0.65)'),
    groupSeries('liver_con', liverCon, 'triangle', 8, 'rgba(0,186,56,0.75)'),
    groupSeries('adl_knifeDIS', adlKnifeDIS, 'rect', 6.5, 'rgba(97,156,255,0.7)'),
    groupSeries('other', otherOutcomes, PLUS, 10, 'rgba(0,0,0,0.8)'),
    chanceSeries(1),
    curveSeries(1)
  ]
});
</script>
</body>
</html>
